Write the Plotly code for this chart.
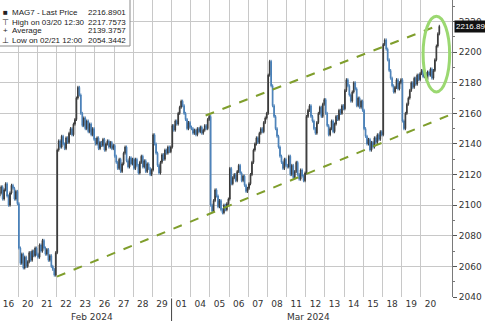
import plotly.graph_objects as go

# ---------------- data ----------------
day_labels = ["16", "20", "21", "22", "23", "26", "27", "28", "29", "01", "04",
              "05", "06", "07", "08", "11", "12", "13", "14", "15", "18", "19", "20"]
bars_per_day = 13

close = [
    # Feb 16
    2108, 2112, 2104, 2110, 2114, 2106, 2100, 2108, 2113, 2111, 2104, 2109, 2101,
    # Feb 20
    2072, 2062, 2068, 2059, 2066, 2060, 2063, 2069, 2064, 2070, 2067, 2072, 2068,
    # Feb 21
    2066, 2074, 2070, 2077, 2072, 2068, 2071, 2064, 2067, 2060, 2058, 2054.3, 2069,
    # Feb 22
    2136, 2142, 2138, 2145, 2140, 2137, 2144, 2141, 2147, 2150, 2146, 2153, 2156,
    # Feb 23
    2170, 2177, 2172, 2160, 2152, 2157, 2150, 2155, 2148, 2153, 2146, 2150, 2143,
    # Feb 26
    2140, 2144, 2137, 2141, 2139, 2143, 2136, 2140, 2142, 2138, 2141, 2137, 2139,
    # Feb 27
    2132, 2128, 2124, 2130, 2122, 2127, 2134, 2138, 2129, 2125, 2131, 2127, 2130,
    # Feb 28
    2124, 2130, 2126, 2121, 2128, 2132, 2125, 2129, 2122, 2127, 2124, 2120, 2123,
    # Feb 29
    2146, 2140, 2134, 2126, 2121, 2128, 2133, 2130, 2136, 2134, 2138, 2135, 2138,
    # Mar 01
    2152, 2149, 2155, 2153, 2160, 2164, 2168, 2165, 2160, 2156, 2150, 2154, 2151,
    # Mar 04
    2150, 2147, 2149, 2146, 2150, 2148, 2151, 2147, 2149, 2152, 2150, 2156, 2158,
    # Mar 05
    2100, 2096, 2103, 2110, 2106, 2099, 2103, 2097, 2095, 2100, 2097, 2101, 2104,
    # Mar 06
    2124, 2114, 2118, 2120, 2116, 2122, 2126, 2121, 2116, 2119, 2113, 2109, 2111,
    # Mar 07
    2114, 2120, 2128, 2136, 2140, 2144, 2141, 2147, 2150, 2148, 2154, 2157, 2160,
    # Mar 08
    2185, 2194, 2178, 2165, 2158, 2150, 2145, 2138, 2132, 2128, 2124, 2130, 2126,
    # Mar 11
    2125, 2132, 2120, 2126, 2118, 2122, 2128, 2120, 2117, 2123, 2119, 2116, 2121,
    # Mar 12
    2158, 2162, 2165, 2158, 2155, 2150, 2147, 2154, 2160, 2164, 2158, 2166, 2169,
    # Mar 13
    2160, 2152, 2146, 2150, 2155, 2148, 2153, 2158, 2156, 2162, 2160, 2165, 2163,
    # Mar 14
    2175, 2182, 2178, 2172, 2168, 2174, 2180, 2176, 2165, 2170, 2164, 2168, 2162,
    # Mar 15
    2150, 2145, 2140, 2143, 2136, 2141, 2138, 2144, 2141, 2146, 2143, 2148, 2146,
    # Mar 18
    2205, 2208, 2202, 2195, 2188, 2183, 2178, 2174, 2177, 2182, 2176, 2180, 2182,
    # Mar 19
    2155, 2150, 2160, 2166, 2170, 2175, 2180, 2177, 2183, 2179, 2185, 2182, 2186,
    # Mar 20
    2188, 2184, 2186, 2182, 2187, 2185, 2189, 2183, 2188, 2195, 2204, 2212, 2216.89,
]
first_open = 2106

# channel lines (bar index, price)
upper_channel_x = [139.6, 296.0]
upper_channel_y = [2158.6, 2217.0]
lower_channel_x = [38.8, 306.6]
lower_channel_y = [2053.3, 2159.6]

legend_labels = ["MAG7 - Last Price", "High on 03/20 12:30", "Average", "Low on 02/21 12:00"]
legend_values = ["2216.8901", "2217.7573", "2139.3757", "2054.3442"]
legend_icons = ["■", "⊤", "+", "⊥"]
last_price = 2216.89
y_ticks = list(range(2040, 2221, 20))
month_labels = ["Feb 2024", "Mar 2024"]
month_centers = [62.5, 209.4]

# ---------------- build ----------------
n = len(close)
xs = list(range(n))
opens = [first_open] + close[:-1]
highs = [max(o, c) + 1.0 for o, c in zip(opens, close)]
lows = [min(o, c) - 1.0 for o, c in zip(opens, close)]

day_centers = [i * bars_per_day + (bars_per_day - 1) / 2 for i in range(len(day_labels))]
day_bounds = [i * bars_per_day - 0.5 for i in range(1, len(day_labels))]

X_RANGE = [0.2, 306.6]
Y_RANGE = [2040, 2234.1]

FONT = "DejaVu Sans"
LFONT = "Liberation Sans"
GRID = "#c8c8c8"

fig = go.Figure()

fig.add_trace(go.Candlestick(
    x=xs, open=opens, high=highs, low=lows, close=close,
    increasing=dict(line=dict(color="#3a3a3a", width=1), fillcolor="#3a3a3a"),
    decreasing=dict(line=dict(color="#4a80b8", width=1), fillcolor="#4a80b8"),
    whiskerwidth=0, showlegend=False, hoverinfo="skip",
))

line_style = dict(color="#7f9e2c", width=2, dash="dash")
fig.add_trace(go.Scatter(x=upper_channel_x, y=upper_channel_y, mode="lines",
                         line=line_style, showlegend=False, hoverinfo="skip"))
fig.add_trace(go.Scatter(x=lower_channel_x, y=lower_channel_y, mode="lines",
                         line=line_style, showlegend=False, hoverinfo="skip"))

shapes = []
# green ellipse highlight
shapes.append(dict(type="circle", xref="x", yref="y", x0=287, x1=305, y0=2174, y1=2223.5,
                   line=dict(color="#9bd871", width=3), layer="above"))
# legend box
pw = 452.0
ph = 297.0
shapes.append(dict(type="rect", xref="paper", yref="paper",
                   x0=-0.01, x1=130 / pw, y0=1 - 46 / ph, y1=1.01,
                   line=dict(color="#8a8a8a", width=1), fillcolor="white", layer="above"))
# month separator tick below axis
shapes.append(dict(type="line", xref="x", yref="paper", x0=day_bounds[8], x1=day_bounds[8],
                   y0=-0.005, y1=-0.09, line=dict(color="#444", width=1)))

annotations = []
rows_px = [12, 22, 31, 40]
for icon, lab, val, ypx in zip(legend_icons, legend_labels, legend_values, rows_px):
    yp = 1 - ypx / ph
    annotations.append(dict(xref="paper", yref="paper", x=5 / pw, y=yp, text=icon,
                            showarrow=False, xanchor="center", yanchor="middle",
                            font=dict(family=LFONT, size=8, color="#222")))
    annotations.append(dict(xref="paper", yref="paper", x=10 / pw, y=yp, text=lab,
                            showarrow=False, xanchor="left", yanchor="middle",
                            font=dict(family=LFONT, size=8, color="#222")))
    annotations.append(dict(xref="paper", yref="paper", x=128 / pw, y=yp, text=val,
                            showarrow=False, xanchor="right", yanchor="middle",
                            font=dict(family=LFONT, size=8, color="#222")))

for lab, cx in zip(month_labels, month_centers):
    annotations.append(dict(xref="x", yref="paper", x=cx, y=-20 / ph, text=lab,
                            showarrow=False, xanchor="center", yanchor="middle",
                            font=dict(family=FONT, size=9, color="#333")))

annotations.append(dict(xref="paper", yref="y", x=1, y=last_price, xshift=2,
                        text="%.2f" % last_price, showarrow=False,
                        xanchor="left", yanchor="middle", bgcolor="#111",
                        font=dict(family=LFONT, size=8, color="white"), borderpad=1))

fig.update_layout(
    width=485, height=321,
    margin=dict(l=0, r=33, t=0, b=24),
    paper_bgcolor="white", plot_bgcolor="white",
    shapes=shapes, annotations=annotations,
    xaxis=dict(
        range=X_RANGE, rangeslider=dict(visible=False),
        tickmode="array", tickvals=day_centers, ticktext=day_labels,
        showgrid=False, zeroline=False, showline=False, ticks="",
        tickfont=dict(family=FONT, size=9, color="#333"),
        minor=dict(tickmode="array", tickvals=day_bounds, showgrid=True,
                   gridcolor=GRID, gridwidth=1, ticks=""),
    ),
    yaxis=dict(
        range=Y_RANGE, side="right",
        tickmode="array", tickvals=y_ticks,
        showgrid=True, gridcolor=GRID, gridwidth=1,
        zeroline=False, showline=True, linecolor="#7a7a7a", linewidth=1,
        ticks="outside", ticklen=4, tickcolor="#555",
        tickfont=dict(family=FONT, size=9, color="#333"),
        minor=dict(dtick=10, ticks="outside", ticklen=2, tickcolor="#777", showgrid=False),
    ),
)

fig.write_html("out.html")
